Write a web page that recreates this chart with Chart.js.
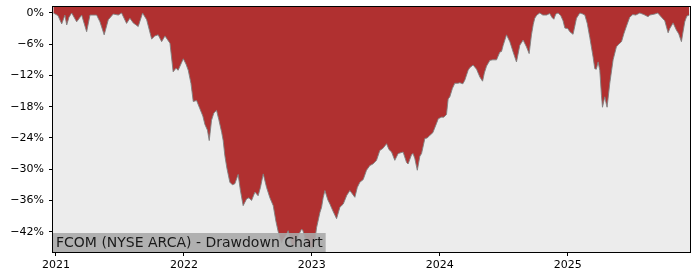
<!DOCTYPE html>
<html>
<head>
<meta charset="utf-8">
<script src="https://cdn.jsdelivr.net/npm/chart.js@4/dist/chart.umd.min.js"></script>
<style>
  html, body { margin: 0; padding: 0; background: #ffffff; }
  #wrap { width: 700px; height: 280px; }
</style>
</head>
<body>
<div id="wrap"><canvas id="chart" width="700" height="280"></canvas></div>
<script>
'use strict';

// dates as decimal years, drawdown in percent
const dates = [
    2020.980, 2021.016, 2021.045, 2021.070, 2021.084, 2021.102, 2021.123, 2021.162, 2021.201, 2021.240,
    2021.266, 2021.318, 2021.344, 2021.377, 2021.409, 2021.448, 2021.487, 2021.513, 2021.552, 2021.578,
    2021.604, 2021.643, 2021.677, 2021.709, 2021.748, 2021.773, 2021.799, 2021.826, 2021.852, 2021.891,
    2021.916, 2021.938, 2021.955, 2021.995, 2022.016, 2022.034, 2022.055, 2022.073, 2022.099, 2022.125,
    2022.148, 2022.164, 2022.184, 2022.198, 2022.216, 2022.234, 2022.255, 2022.273, 2022.295, 2022.307,
    2022.320, 2022.336, 2022.359, 2022.379, 2022.398, 2022.424, 2022.441, 2022.463, 2022.490, 2022.508,
    2022.529, 2022.555, 2022.580, 2022.598, 2022.620, 2022.646, 2022.672, 2022.698, 2022.719, 2022.737,
    2022.763, 2022.776, 2022.802, 2022.815, 2022.841, 2022.854, 2022.880, 2022.893, 2022.920, 2022.930,
    2022.945, 2022.971, 2022.984, 2023.005, 2023.023, 2023.037, 2023.063, 2023.076, 2023.088, 2023.102,
    2023.125, 2023.141, 2023.164, 2023.193, 2023.219, 2023.245, 2023.273, 2023.297, 2023.336, 2023.355,
    2023.375, 2023.401, 2023.427, 2023.453, 2023.477, 2023.505, 2023.531, 2023.555, 2023.584, 2023.602,
    2023.623, 2023.648, 2023.674, 2023.713, 2023.740, 2023.752, 2023.779, 2023.791, 2023.805, 2023.824,
    2023.844, 2023.857, 2023.883, 2023.902, 2023.922, 2023.945, 2023.974, 2023.988, 2024.013, 2024.031,
    2024.052, 2024.065, 2024.078, 2024.098, 2024.117, 2024.141, 2024.156, 2024.180, 2024.195, 2024.221,
    2024.234, 2024.260, 2024.287, 2024.313, 2024.334, 2024.348, 2024.365, 2024.391, 2024.414, 2024.443,
    2024.469, 2024.482, 2024.495, 2024.521, 2024.547, 2024.573, 2024.599, 2024.625, 2024.651, 2024.677,
    2024.698, 2024.716, 2024.730, 2024.742, 2024.758, 2024.781, 2024.805, 2024.834, 2024.859, 2024.875,
    2024.891, 2024.906, 2024.924, 2024.945, 2024.963, 2024.977, 2025.000, 2025.016, 2025.041, 2025.055,
    2025.068, 2025.094, 2025.117, 2025.133, 2025.152, 2025.172, 2025.198, 2025.211, 2025.223, 2025.237,
    2025.250, 2025.263, 2025.271, 2025.281, 2025.289, 2025.301, 2025.307, 2025.328, 2025.354, 2025.380,
    2025.398, 2025.420, 2025.438, 2025.459, 2025.484, 2025.508, 2025.531, 2025.563, 2025.594, 2025.627,
    2025.641, 2025.680, 2025.703, 2025.732, 2025.758, 2025.784, 2025.797, 2025.823, 2025.849, 2025.867,
    2025.888, 2025.898, 2025.914, 2025.930, 2025.949
];

const drawdown = [
    0, -0.5, -2.1, -0.4, -2.3, -0.8, 0, -1.7, -0.4, -3.6,
    -0.4, -0.4, -1.7, -4.2, -1.3, -0.2, -0.4, 0, -2.0, -1.0,
    -1.9, -2.6, 0, -1.3, -5.0, -4.4, -4.2, -5.5, -4.4, -5.8,
    -11.3, -10.6, -11.0, -8.8, -9.8, -11.0, -13.5, -17.0, -16.8, -18.4,
    -19.8, -21.4, -22.5, -24.5, -20.6, -19.2, -18.7, -20.5, -22.9, -24.5,
    -27.4, -29.8, -32.5, -33.0, -32.8, -31.0, -34.0, -37.0, -35.7, -35.5,
    -36.0, -34.4, -35.1, -33.5, -30.9, -33.5, -35.5, -37.0, -40.0, -42.0,
    -44.2, -43.4, -42.5, -41.8, -44.5, -45.0, -43.7, -42.8, -41.5, -41.8,
    -43.1, -44.7, -45.0, -45.3, -43.7, -41.2, -38.3, -37.3, -35.5, -34.1,
    -35.9, -36.7, -38.0, -39.5, -37.3, -36.7, -35.0, -34.1, -35.4, -33.5,
    -32.5, -32.0, -30.2, -29.3, -29.0, -28.3, -26.4, -26.0, -25.1, -26.2,
    -26.7, -28.3, -27.0, -26.7, -28.7, -29.0, -27.2, -27.0, -28.0, -30.2,
    -27.5, -27.0, -24.1, -24.0, -23.5, -23.0, -21.2, -20.3, -20.0, -20.0,
    -19.5, -16.5, -16.1, -14.5, -13.5, -13.5, -13.4, -13.6, -12.9, -11.0,
    -10.5, -10.0, -10.8, -12.3, -13.1, -11.5, -10.2, -9.1, -9.0, -9.0,
    -7.5, -7.4, -6.2, -4.2, -5.5, -7.5, -9.4, -6.2, -5.2, -6.5,
    -7.8, -4.2, -2.2, -1.0, -0.4, 0, -0.4, -0.4, -0.1, -0.8,
    -1.2, -0.2, 0, -0.5, -1.5, -2.9, -3.0, -3.6, -4.1, -2.5,
    -1.0, 0, -0.2, -0.4, -2.0, -4.7, -8.5, -10.7, -10.8, -9.4,
    -11.0, -15.8, -18.1, -17.0, -16.1, -17.5, -18.1, -13.5, -9.0, -6.5,
    -6.0, -5.5, -4.0, -2.5, -0.8, -0.3, -0.4, 0, -0.3, -0.7,
    -0.4, -0.2, 0, -0.8, -1.5, -3.8, -3.0, -1.9, -3.3, -4.0,
    -5.5, -4.0, -1.7, -0.6, -0.4
];

const yearTicks = [2021, 2022, 2023, 2024, 2025];
const pctTicks = [0, -6, -12, -18, -24, -30, -36, -42];
const chartLabel = 'FCOM (NYSE ARCA) - Drawdown Chart';

const FONT = 'DejaVu Sans';

/**
 * @brief paints the plot background, frame and the label box
 */
const framePlugin = {
    id: 'frame',
    beforeDraw(chart) {
        const a = chart.chartArea;
        const ctx = chart.ctx;
        ctx.save();
        ctx.fillStyle = '#ececec';
        ctx.fillRect(a.left, a.top, a.right - a.left, a.bottom - a.top);
        ctx.restore();
    },
    afterDraw(chart) {
        const a = chart.chartArea;
        const ctx = chart.ctx;
        ctx.save();
        // label box
        ctx.font = '14px "' + FONT + '"';
        const w = ctx.measureText(chartLabel).width;
        ctx.fillStyle = 'rgba(170,170,170,0.9)';
        ctx.fillRect(a.left, a.bottom - 19, w + 6, 19);
        ctx.fillStyle = '#1a1a1a';
        ctx.textBaseline = 'alphabetic';
        ctx.fillText(chartLabel, a.left + 3, a.bottom - 5);
        // axes frame
        ctx.strokeStyle = '#000000';
        ctx.lineWidth = 1;
        ctx.strokeRect(a.left - 0.5, a.top - 0.5, a.right - a.left + 1, a.bottom - a.top + 1);
        ctx.restore();
    }
};

const points = dates.map((d, i) => ({ x: d, y: drawdown[i] }));

new Chart(document.getElementById('chart'), {
    type: 'line',
    data: {
        datasets: [{
            data: points,
            borderColor: 'rgba(128,128,128,0.9)',
            borderWidth: 1,
            backgroundColor: '#b03030',
            fill: 'end',
            pointRadius: 0,
            tension: 0
        }]
    },
    options: {
        responsive: false,
        animation: false,
        layout: { padding: { top: 7, right: 10, left: 0, bottom: 0 } },
        plugins: { legend: { display: false }, tooltip: { enabled: false } },
        scales: {
            x: {
                type: 'linear',
                min: 2020.977,
                max: 2025.955,
                afterFit(scale) {
                    scale.height = 28;
                    scale.paddingLeft = 0;
                    scale.paddingRight = 0;
                },
                afterBuildTicks(scale) { scale.ticks = yearTicks.map(v => ({ value: v })); },
                border: { display: false },
                grid: { drawOnChartArea: false, drawTicks: true, tickLength: 4, color: '#000000' },
                ticks: {
                    font: { family: FONT, size: 11 },
                    color: '#000000',
                    padding: 3,
                    maxRotation: 0,
                    callback: v => String(v)
                }
            },
            y: {
                min: -45.9,
                max: 1.15,
                afterFit(scale) {
                    scale.width = 53;
                    scale.paddingTop = 0;
                    scale.paddingBottom = 0;
                },
                afterBuildTicks(scale) { scale.ticks = pctTicks.map(v => ({ value: v })); },
                border: { display: false },
                grid: { drawOnChartArea: false, drawTicks: true, tickLength: 4, color: '#000000' },
                ticks: {
                    font: { family: FONT, size: 11 },
                    color: '#000000',
                    padding: 5,
                    callback: v => v === 0 ? '0%' : '\u2212' + Math.abs(v) + '%'
                }
            }
        }
    },
    plugins: [framePlugin]
});
</script>
</body>
</html>
